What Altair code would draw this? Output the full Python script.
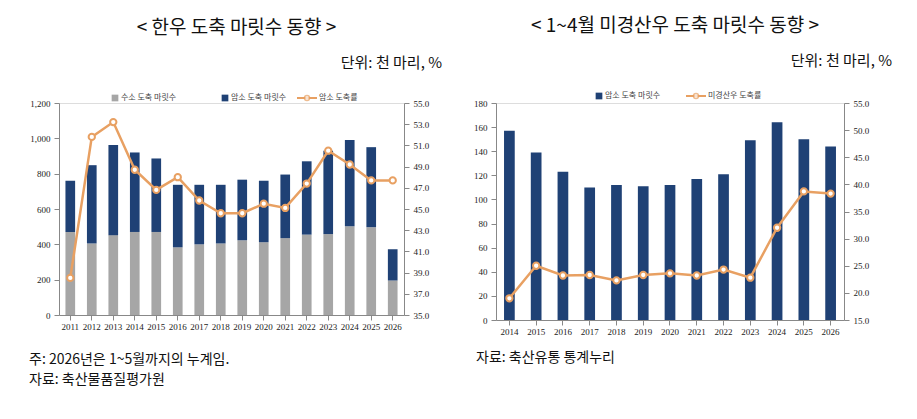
import altair as alt
import pandas as pd

FONT = "Noto Sans CJK KR"

# 왼쪽: 한우 도축 마릿수 (천 마리), 암소 도축률 (%)
연도_좌 = [str(y) for y in range(2011, 2027)]
수소 = [470, 405, 452, 470, 470, 383, 400, 405, 423, 412, 435, 455, 458, 503, 497, 195]
암소 = [290, 443, 510, 450, 416, 354, 337, 332, 343, 348, 360, 415, 472, 487, 453, 177]
암소도축률 = [38.5, 51.8, 53.2, 48.7, 46.8, 48.0, 45.8, 44.6, 44.6, 45.5, 45.1, 47.4, 50.5, 49.2, 47.7, 47.7]

# 오른쪽: 1~4월 암소 도축 마릿수, 미경산우 도축률
연도_우 = [str(y) for y in range(2014, 2027)]
암소_1_4월 = [157, 139, 123, 110, 112, 111, 112, 117, 121, 149, 164, 150, 144]
미경산우도축률 = [19.0, 25.0, 23.2, 23.3, 22.3, 23.3, 23.6, 23.2, 24.3, 22.8, 32.0, 38.7, 38.3]

NAVY = "#1f4175"
GRAY = "#a6a6a6"
ORANGE = "#e8a062"

def 축(fmt, vals, orient="left"):
    return alt.Axis(format=fmt, values=vals, grid=False, labelFont="Liberation Serif",
                    labelFontSize=9, labelColor="#222", domainColor="#888", tickColor="#888",
                    title=None, orient=orient, labelPadding=4)

def 글(text, x, y, size=11, align="left", color="#111"):
    return alt.Chart(pd.DataFrame({"t": [text]})).mark_text(
        align=align, baseline="middle", font=FONT, fontSize=size, color=color
    ).encode(x=alt.value(x), y=alt.value(y), text="t:N")

def 사각(x, y, color):
    return alt.Chart(pd.DataFrame({"a": [0]})).mark_square(size=45, color=color, opacity=1).encode(
        x=alt.value(x), y=alt.value(y))

def 선범례(x, y):
    d = pd.DataFrame({"a": [0]})
    line = alt.Chart(d).mark_rule(color=ORANGE, strokeWidth=2).encode(
        x=alt.value(x), x2=alt.value(x + 20), y=alt.value(y))
    pt = alt.Chart(d).mark_point(color=ORANGE, fill="white", filled=True, strokeWidth=1.5, size=25,
                                 stroke=ORANGE).encode(x=alt.value(x + 10), y=alt.value(y))
    return line + pt

# 왼쪽 패널
W1, H1 = 345, 212
df1 = pd.DataFrame({
    "연도": 연도_좌 * 2,
    "값": 수소 + 암소,
    "구분": ["수소"] * 16 + ["암소"] * 16,
    "순서": [0] * 16 + [1] * 16,
})
x1 = alt.X("연도:O", axis=alt.Axis(labelAngle=0, labelFont="Liberation Serif", labelFontSize=9,
                                  labelColor="#222", title=None, domainColor="#888", tickColor="#888"),
           scale=alt.Scale(paddingInner=0.55, paddingOuter=0.3))
bars1 = alt.Chart(df1).mark_bar().encode(
    x=x1,
    y=alt.Y("sum(값):Q", scale=alt.Scale(domain=[0, 1200]), axis=축(",d", list(range(0, 1201, 200)))),
    color=alt.Color("구분:N", scale=alt.Scale(domain=["수소", "암소"], range=[GRAY, NAVY]), legend=None),
    order=alt.Order("순서:Q"),
)
line1 = alt.Chart(pd.DataFrame({"연도": 연도_좌, "률": 암소도축률})).mark_line(
    color=ORANGE, strokeWidth=2.5,
    point=alt.OverlayMarkDef(filled=True, fill="white", stroke=ORANGE, strokeWidth=2, size=40)
).encode(
    x=x1,
    y=alt.Y("률:Q", scale=alt.Scale(domain=[35, 55]),
            axis=축(".1f", [35 + 2 * i for i in range(11)], "right")),
)
deco1 = (글("< 한우 도축 마릿수 동향 >", W1 / 2 + 5, -75, 19, "center")
         + 글("단위: 천 마리, %", W1 + 38, -40, 15, "right")
         + 사각(56, -5, GRAY) + 글("수소 도축 마릿수", 62, -5, 8, color="#444")
         + 사각(166, -5, NAVY) + 글("암소 도축 마릿수", 172, -5, 8, color="#444")
         + 선범례(238, -5) + 글("암소 도축률", 260, -5, 8, color="#444")
         + 글("주: 2026년은 1~5월까지의 누계임.", -30, H1 + 45, 14)
         + 글("자료: 축산물품질평가원", -30, H1 + 65, 14))
left = alt.layer(bars1, line1, deco1).resolve_scale(y="independent").properties(width=W1, height=H1)

# 오른쪽 패널
W2, H2 = 348, 217
df2 = pd.DataFrame({"연도": 연도_우, "암소": 암소_1_4월, "률": 미경산우도축률})
x2 = alt.X("연도:O", axis=alt.Axis(labelAngle=0, labelFont="Liberation Serif", labelFontSize=9,
                                  labelColor="#222", title=None, domainColor="#888", tickColor="#888"),
           scale=alt.Scale(paddingInner=0.6, paddingOuter=0.3))
bars2 = alt.Chart(df2).mark_bar(color=NAVY).encode(
    x=x2,
    y=alt.Y("암소:Q", scale=alt.Scale(domain=[0, 180]), axis=축("d", list(range(0, 181, 20)))),
)
line2 = alt.Chart(df2).mark_line(
    color=ORANGE, strokeWidth=2.5,
    point=alt.OverlayMarkDef(filled=True, fill="white", stroke=ORANGE, strokeWidth=2, size=40)
).encode(
    x=x2,
    y=alt.Y("률:Q", scale=alt.Scale(domain=[15, 55]),
            axis=축(".1f", [15 + 5 * i for i in range(9)], "right")),
)
deco2 = (글("< 1~4월 미경산우 도축 마릿수 동향 >", W2 / 2 + 5, -77, 19, "center")
         + 글("단위: 천 마리, %", W2 + 48, -42, 15, "right")
         + 사각(103, -7, NAVY) + 글("암소 도축 마릿수", 109, -7, 8, color="#444")
         + 선범례(190, -7) + 글("미경산우 도축률", 212, -7, 8, color="#444")
         + 글("자료: 축산유통 통계누리", -20, H2 + 38, 14))
right = alt.layer(bars2, line2, deco2).resolve_scale(y="independent").properties(width=W2, height=H2)

chart = (alt.hconcat(left, right, spacing=30)
         .properties(padding={"left": 20, "top": 8, "right": 5, "bottom": 5})
         .configure_view(stroke=None).configure(background="white"))
chart.save("out.html", embed_options={"renderer": "svg", "actions": False})
